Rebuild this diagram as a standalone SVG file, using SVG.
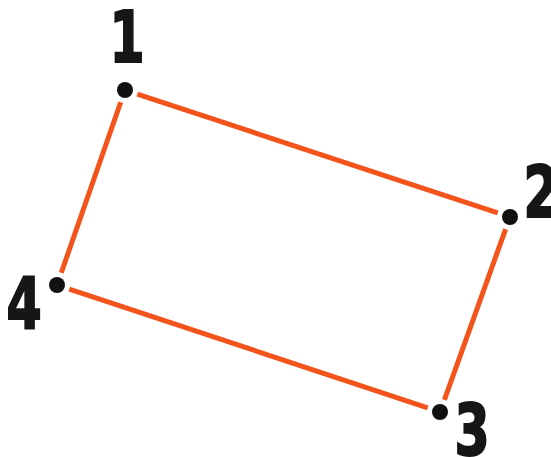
<svg xmlns="http://www.w3.org/2000/svg" width="551" height="457" viewBox="0 0 551 457">
<style>
.edge{stroke:#f2541b;stroke-width:5;fill:none}
.dot{fill:#111}
.lbl{font-family:"DejaVu Sans","Liberation Sans",sans-serif;font-weight:bold;font-stretch:condensed;font-size:72px;fill:#161616;stroke:#161616;stroke-width:2}
</style>
<rect width="551" height="457" fill="#ffffff"/>
<g id="connectors">
<line class="edge" x1="137.3" y1="94.1" x2="497.7" y2="212.9"/>
<line class="edge" x1="120.7" y1="102.3" x2="61.3" y2="272.7"/>
<line class="edge" x1="69.3" y1="289.1" x2="427.7" y2="407.9"/>
<line class="edge" x1="505.6" y1="229.2" x2="444.4" y2="399.8"/>
</g>
<g id="node1"><circle class="dot" cx="125" cy="90" r="8"/><text class="lbl" transform="translate(127,62) scale(0.78,1)" text-anchor="middle">1</text></g>
<g id="node2"><circle class="dot" cx="510" cy="217" r="8"/><text class="lbl" transform="translate(541,217) scale(0.78,1)" text-anchor="middle">2</text></g>
<g id="node3"><circle class="dot" cx="440" cy="412" r="8"/><text class="lbl" transform="translate(472,455) scale(0.78,1)" text-anchor="middle">3</text></g>
<g id="node4"><circle class="dot" cx="57" cy="285" r="8"/><text class="lbl" transform="translate(24,328) scale(0.78,1)" text-anchor="middle">4</text></g>
</svg>
